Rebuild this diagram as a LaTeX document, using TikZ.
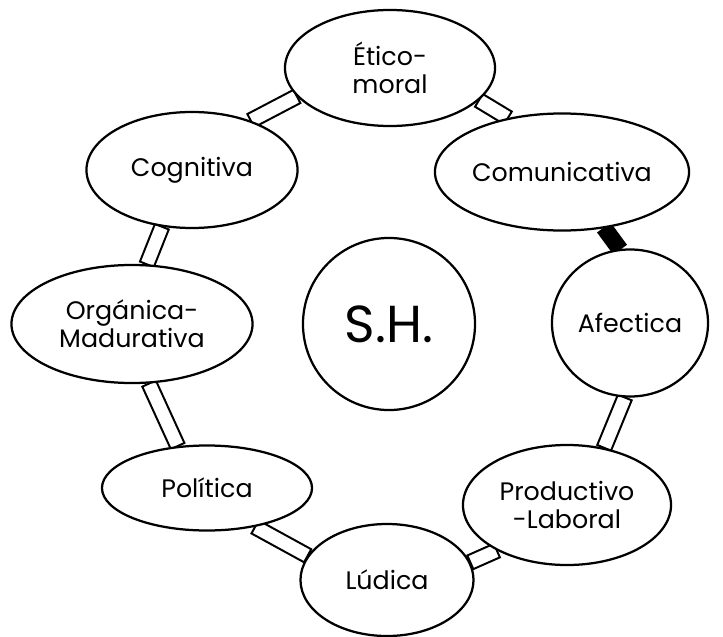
\documentclass[tikz,border=0pt]{standalone}
\usepackage{fontspec}
\setmainfont{Poppins}
\usepackage{tikz}
\usetikzlibrary{shapes.geometric, calc, backgrounds}
\tikzstyle{area} = [ellipse, draw=black, line width=1.6pt, fill=white, inner sep=0pt, align=center, font=\fontsize{18}{20}\selectfont]
\tikzstyle{core} = [circle, draw=black, line width=1.6pt, fill=white, inner sep=0pt, font=\fontsize{37}{40}\selectfont]
\newcommand{\joint}[3][white]{\draw [line width=1.4pt, fill=#1] ($(#2)!5.3pt!90:(#3)$) -- ($(#3)!5.3pt!-90:(#2)$) -- ($(#3)!5.3pt!90:(#2)$) -- ($(#2)!5.3pt!-90:(#3)$) -- cycle;}

\begin{document}
\begin{tikzpicture}[x=0.025cm, y=-0.025cm]
	\useasboundingbox (0,0) rectangle (723,637);
	\node (eti) [area, minimum width=5.25cm, minimum height=2.9cm] at (390,68) {Ético-\\moral};
	\node (cog) [area, minimum width=5.275cm, minimum height=2.9cm] at (192,170) {Cognitiva};
	\node (com) [area, minimum width=6.35cm, minimum height=2.925cm] at (562,172) {Comunicativa};
	\node (org) [area, minimum width=6.025cm, minimum height=2.95cm] at (132,324) {Orgánica-\\Madurativa};
	\node (sh) [core, minimum size=4.3cm] at (389,324) {S.H.};
	\node (afe) [area, minimum width=3.9cm, minimum height=3.675cm] at (630,323) {Afectica};
	\node (pro) [area, minimum width=5.2cm, minimum height=3cm] at (567,505) {Productivo\\-Laboral};
	\node (lud) [area, minimum width=4.325cm, minimum height=2.8cm] at (387,580) {Lúdica};
	\node (pol) [area, minimum width=5.25cm, minimum height=2.125cm] at (207,488) {Política};

	\begin{pgfonlayer}{background}
		\joint{cog.40}{eti.197}
		\joint{eti.340}{com.135}
		\joint[black]{com.307}{afe.98}
		\joint{afe.266}{pro.57}
		\joint{pro.213}{lud.12}
		\joint{lud.163}{pol.321}
		\joint{pol.125}{org.286}
		\joint{org.76}{cog.242}
	\end{pgfonlayer}
\end{tikzpicture}
\end{document}
